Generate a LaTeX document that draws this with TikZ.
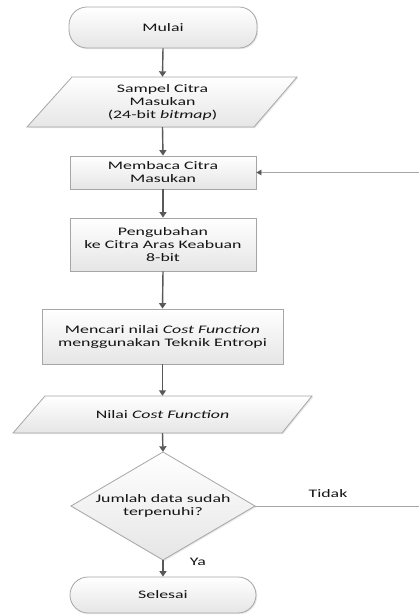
\documentclass[tikz,border=0pt]{standalone}
\usepackage{fontspec}
\setmainfont{Carlito}[FakeStretch=1.55]
\usetikzlibrary{arrows.meta,shadows}
\definecolor{edge}{HTML}{A6A6A6}
\definecolor{arr}{HTML}{595959}
\definecolor{txt}{HTML}{141414}
\begin{document}
\begin{tikzpicture}[x=1pt,y=-1pt,
  shp/.style={draw=edge, line width=0.8pt, top color=white, bottom color=black!10,
    drop shadow={shadow xshift=1.2pt,shadow yshift=-1.2pt,opacity=0.18}},
  lbl/.style={text=txt, align=center, font=\fontsize{11.5}{13}\selectfont, inner sep=0pt},
  box/.style={shp, lbl, rectangle},
  term/.style={shp, lbl, rectangle, rounded corners=18pt},
  arrow/.style={draw=arr, line width=1.4pt, -{Triangle[width=7pt,length=5.5pt]}},
  back/.style={draw=edge, line width=0.8pt, -{Triangle[width=5.5pt,length=5pt,color=arr,fill=arr]}}]
\useasboundingbox (0,0) rectangle (419,616);
% shapes drawn directly
\path[shp] (72,77) -- (297,77) -- (254,127) -- (27,127) -- cycle;
\path[shp] (45,396) -- (312,396) -- (282,433) -- (13,433) -- cycle;
\path[shp] (163,452) -- (255,506) -- (163,560) -- (71,506) -- cycle;
% nodes
\node[term, minimum width=188pt, minimum height=41pt] (mulai) at (163,27.5) {Mulai};
\node[lbl, minimum width=226pt, minimum height=50pt] (sampel) at (162.5,102) {Sampel Citra\\Masukan\\(24-bit \textit{bitmap})};
\node[box, minimum width=186pt, minimum height=33pt] (membaca) at (163,172.5) {Membaca Citra\\Masukan};
\node[box, minimum width=186pt, minimum height=53pt] (ubah) at (163,244.5) {Pengubahan\\ke Citra Aras Keabuan\\8-bit};
\node[box, minimum width=241pt, minimum height=55pt] (cari) at (162.5,336.5) {Mencari nilai \textit{Cost Function}\\menggunakan Teknik Entropi};
\node[lbl, minimum width=268pt, minimum height=37pt] (nilai) at (162.5,414.5) {Nilai \textit{Cost Function}};
\node[lbl, minimum width=184pt, minimum height=108pt] (cek) at (163,506) {Jumlah data sudah\\terpenuhi?};
\node[term, minimum width=186pt, minimum height=36pt] (selesai) at (163,595) {Selesai};
\node[lbl] (tidak) at (328,494) {Tidak};
\node[lbl] (ya) at (198,562) {Ya};
\coordinate (rt) at (422,506);
% connectors
\draw[arrow] (mulai.south) -- (sampel.north);
\draw[arrow] (sampel.south) -- (membaca.north);
\draw[arrow] (membaca.south) -- (ubah.north);
\draw[arrow] (ubah.south) -- (cari.north);
\draw[arrow] (cari.south) -- (nilai.north);
\draw[arrow] (nilai.south) -- (cek.north);
\draw[arrow] (cek.south) -- (selesai.north);
\draw[back] (cek.east) -- (rt) |- (membaca.east);
\end{tikzpicture}
\end{document}
